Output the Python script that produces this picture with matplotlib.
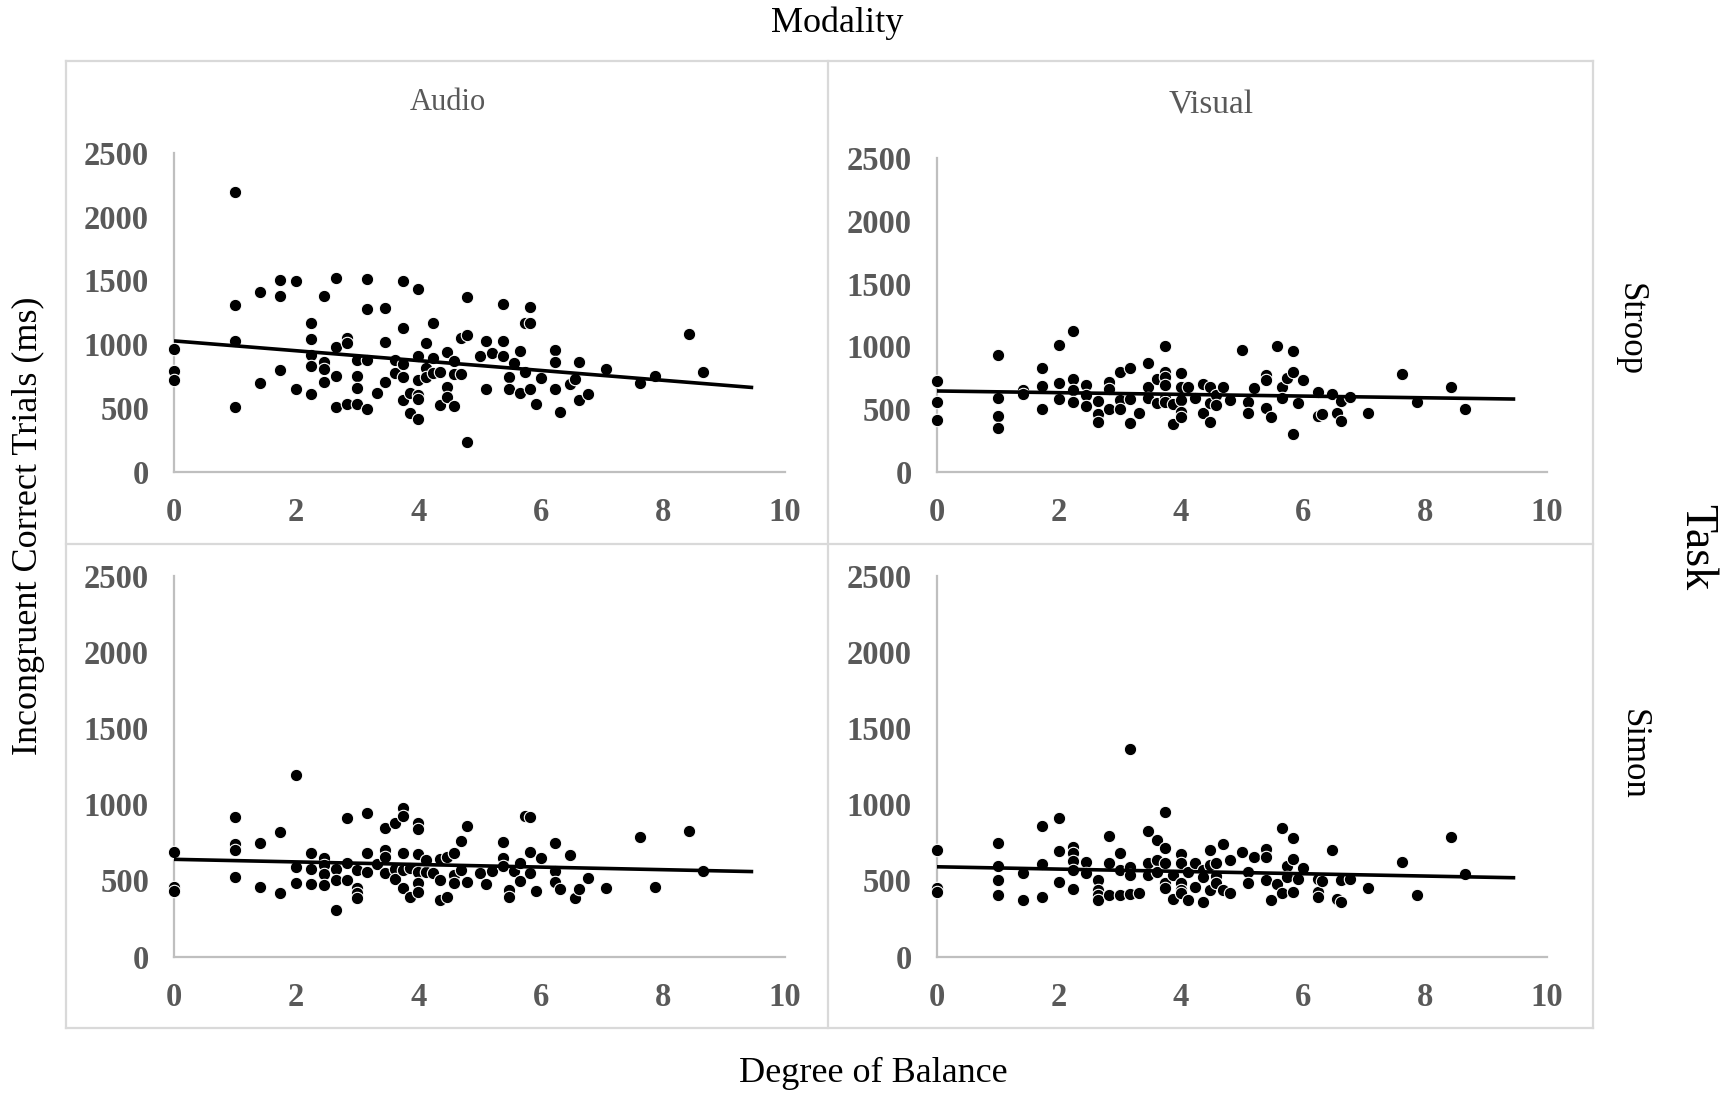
import matplotlib
matplotlib.use("Agg")
import matplotlib.pyplot as plt
from matplotlib.lines import Line2D
import numpy as np

# ---------------- data ----------------
audio_stroop_x = [0, 0, 0, 1, 1, 1, 1, 1.41, 1.41, 1.73, 1.73, 1.73, 2, 2, 2.24, 2.24, 2.24, 2.24, 2.24,
                  2.45, 2.45, 2.45, 2.45, 2.65, 2.65, 2.65, 2.65, 2.83, 2.83, 2.83, 3, 3, 3, 3,
                  3.16, 3.16, 3.16, 3.16, 3.32, 3.46, 3.46, 3.46, 3.61, 3.61, 3.74, 3.74, 3.74, 3.74, 3.74,
                  3.87, 3.87, 4, 4, 4, 4, 4, 4, 4.12, 4.12, 4.12, 4.24, 4.24, 4.24, 4.36, 4.36,
                  4.47, 4.47, 4.47, 4.58, 4.58, 4.58, 4.69, 4.69, 4.8, 4.8, 4.8, 5.0,
                  5.1, 5.1, 5.2, 5.39, 5.39, 5.39, 5.48, 5.48, 5.57, 5.66, 5.66, 5.74, 5.74,
                  5.83, 5.83, 5.83, 5.92, 6, 6.24, 6.24, 6.24, 6.32, 6.48, 6.56, 6.63, 6.63, 6.78,
                  7.07, 7.62, 7.87, 8.43, 8.66]
audio_stroop_y = [963, 791, 720, 2194, 1309, 1024, 505, 1406, 696, 1505, 1382, 798, 1497, 652, 1170, 1039, 914, 832, 607,
                  1382, 864, 804, 707, 1516, 982, 751, 510, 1047, 1013, 531, 877, 754, 654, 531,
                  1513, 1278, 877, 495, 620, 1285, 1016, 702, 877, 778, 1492, 1126, 843, 746, 563,
                  615, 463, 1435, 908, 720, 602, 568, 414, 1013, 812, 746, 1165, 895, 778, 785, 524,
                  942, 668, 589, 872, 765, 518, 1047, 765, 1374, 1073, 236, 911,
                  1026, 649, 935, 1312, 1029, 911, 746, 649, 856, 948, 620, 785, 1165,
                  1291, 1165, 647, 531, 733, 956, 864, 649, 471, 686, 725, 864, 563, 607,
                  809, 694, 751, 1081, 783]

visual_stroop_x = [0, 0, 0, 1, 1, 1, 1, 1.41, 1.41, 1.73, 1.73, 1.73, 2, 2, 2, 2.24, 2.24, 2.24, 2.24,
                   2.45, 2.45, 2.45, 2.65, 2.65, 2.65, 2.83, 2.83, 2.83, 3, 3, 3, 3.16, 3.16, 3.16, 3.32,
                   3.46, 3.46, 3.46, 3.61, 3.61, 3.74, 3.74, 3.74, 3.74, 3.74, 3.74, 3.87, 3.87,
                   4, 4, 4, 4, 4, 4.12, 4.24, 4.36, 4.36, 4.47, 4.47, 4.47, 4.58, 4.58, 4.69, 4.8,
                   5, 5.1, 5.1, 5.2, 5.39, 5.39, 5.39, 5.48, 5.57, 5.66, 5.66, 5.74, 5.83, 5.83, 5.83,
                   5.92, 6, 6.24, 6.24, 6.32, 6.48, 6.56, 6.63, 6.63, 6.78, 7.07, 7.62, 7.87, 8.43, 8.66]
visual_stroop_y = [726, 553, 412, 928, 585, 447, 346, 652, 617, 827, 686, 500, 1013, 710, 580, 1122, 742, 649, 559,
                   692, 612, 527, 567, 460, 394, 718, 660, 497, 798, 572, 497, 825, 577, 391, 471,
                   865, 673, 591, 740, 545, 1005, 798, 753, 689, 585, 559, 540, 380,
                   785, 673, 572, 473, 439, 678, 585, 700, 471, 673, 551, 399, 612, 532, 673, 572,
                   971, 559, 471, 670, 771, 731, 511, 439, 1005, 673, 591, 745, 963, 798, 301,
                   545, 731, 633, 447, 460, 620, 471, 567, 404, 599, 465, 777, 559, 678, 500]

audio_simon_x = [0, 0, 0, 1, 1, 1, 1, 1.41, 1.41, 1.73, 1.73, 2, 2, 2, 2.24, 2.24, 2.24,
                 2.45, 2.45, 2.45, 2.45, 2.65, 2.65, 2.65, 2.83, 2.83, 2.83, 3, 3, 3, 3,
                 3.16, 3.16, 3.16, 3.32, 3.46, 3.46, 3.46, 3.46, 3.61, 3.61, 3.61,
                 3.74, 3.74, 3.74, 3.74, 3.74, 3.87, 3.87, 4, 4, 4, 4, 4, 4, 4.12, 4.12, 4.24,
                 4.36, 4.36, 4.36, 4.47, 4.47, 4.58, 4.58, 4.58, 4.69, 4.69, 4.8, 4.8, 5.0,
                 5.1, 5.2, 5.39, 5.39, 5.39, 5.48, 5.48, 5.57, 5.66, 5.66, 5.74, 5.83, 5.83, 5.83,
                 5.92, 6, 6.24, 6.24, 6.24, 6.32, 6.48, 6.56, 6.63, 6.78, 7.07, 7.62, 7.87, 8.43, 8.66]
audio_simon_y = [689, 459, 433, 919, 739, 700, 525, 748, 459, 820, 420, 1192, 590, 486, 678, 575, 477,
                 650, 601, 540, 470, 575, 503, 306, 908, 612, 503, 569, 448, 416, 387,
                 940, 682, 558, 608, 842, 700, 656, 551, 875, 573, 510,
                 973, 923, 678, 569, 448, 389, 580, 875, 835, 671, 558, 481, 426, 558, 634, 547,
                 639, 503, 372, 656, 389, 678, 536, 486, 761, 569, 857, 492, 549,
                 477, 564, 755, 645, 595, 437, 389, 564, 617, 496, 925, 914, 685, 551,
                 431, 650, 744, 564, 488, 444, 667, 387, 442, 514, 448, 783, 455, 824, 564]

visual_simon_x = [0, 0, 0, 1, 1, 1, 1, 1.41, 1.41, 1.73, 1.73, 1.73, 2, 2, 2, 2.24, 2.24, 2.24, 2.24, 2.24,
                  2.45, 2.45, 2.65, 2.65, 2.65, 2.65, 2.83, 2.83, 2.83, 3, 3, 3, 3.16, 3.16, 3.16, 3.16, 3.32,
                  3.46, 3.46, 3.46, 3.61, 3.61, 3.61, 3.74, 3.74, 3.74, 3.74, 3.74, 3.87, 3.87,
                  4, 4, 4, 4, 4, 4.12, 4.12, 4.24, 4.24, 4.36, 4.36, 4.36, 4.47, 4.47, 4.47,
                  4.58, 4.58, 4.58, 4.69, 4.69, 4.8, 4.8, 5, 5.1, 5.1, 5.2, 5.39, 5.39, 5.39, 5.48, 5.57,
                  5.66, 5.66, 5.74, 5.74, 5.83, 5.83, 5.83, 5.92, 6, 6.24, 6.24, 6.24, 6.32, 6.48, 6.56,
                  6.63, 6.63, 6.78, 7.07, 7.62, 7.87, 8.43, 8.66]
visual_simon_y = [700, 453, 426, 744, 597, 503, 405, 551, 372, 857, 606, 394, 908, 693, 492, 722, 678, 628, 569, 442,
                  623, 547, 503, 437, 405, 372, 792, 612, 405, 678, 569, 405, 1362, 590, 536, 409, 420,
                  827, 612, 536, 765, 634, 558, 951, 711, 617, 481, 448, 536, 376,
                  674, 617, 486, 437, 416, 558, 372, 612, 459, 569, 525, 361, 700, 601, 437,
                  612, 529, 481, 739, 437, 634, 420, 689, 558, 481, 656, 704, 656, 503, 372, 477,
                  842, 416, 595, 525, 776, 641, 422, 507, 584, 510, 426, 394, 499, 700, 376,
                  503, 361, 510, 453, 619, 405, 787, 542]

# linear trend lines (intercept, slope)
trend_intercept = [1026, 644, 639, 590]
trend_slope = [-38.6, -6.8, -8.5, -7.6]
trend_x_end = 9.48

modalities = ["Audio", "Visual"]
tasks = ["Stroop", "Simon"]
x_ticks = [0, 2, 4, 6, 8, 10]
y_ticks = [0, 500, 1000, 1500, 2000, 2500]

# ---------------- figure ----------------
W, H = 1733, 1095
fig = plt.figure(figsize=(W / 100, H / 100), dpi=100)
plt.rcParams['font.family'] = ['Liberation Serif', 'DejaVu Serif']

def fx(px):
    return px / W

def fy(py):
    return 1 - py / H

tick_col = "#595959"
axis_col = "#bfbfbf"
border_col = "#d9d9d9"

# panel geometry (pixels): left, right, top(2500), bottom(0)
panels = [
    (174, 785, 153, 471.7),
    (936.7, 1547, 158.3, 471.7),
    (174, 785, 575.7, 956.7),
    (936.7, 1547, 575.7, 956.7),
]
data = [
    (audio_stroop_x, audio_stroop_y),
    (visual_stroop_x, visual_stroop_y),
    (audio_simon_x, audio_simon_y),
    (visual_simon_x, visual_simon_y),
]

for i, ((l, r, t, b), (xs, ys)) in enumerate(zip(panels, data)):
    ax = fig.add_axes([fx(l), fy(b), fx(r) - fx(l), fy(t) - fy(b)])
    ax.scatter(xs, ys, s=80, c="black", edgecolors="white", linewidths=0.8, zorder=3, clip_on=False)
    xl = np.array([0, trend_x_end])
    ax.plot(xl, trend_intercept[i] + trend_slope[i] * xl, color="black", lw=2.6, zorder=4,
            solid_capstyle="butt")
    ax.set_xlim(0, 10)
    ax.set_ylim(0, 2500)
    ax.set_xticks(x_ticks)
    ax.set_yticks(y_ticks)
    ax.tick_params(length=0, pad=18, labelsize=23.5, labelcolor=tick_col)
    for lab in ax.get_xticklabels() + ax.get_yticklabels():
        lab.set_fontweight("bold")
    for s in ["top", "right"]:
        ax.spines[s].set_visible(False)
    for s in ["left", "bottom"]:
        ax.spines[s].set_color(axis_col)
        ax.spines[s].set_linewidth(1.6)
    ax.set_facecolor("none")

# border grid lines
x0, x1, xm = 66, 1593, 828
y0, y1, ym = 61, 1028, 544
for (xa, ya, xb, yb) in [(x0, y0, x1, y0), (x0, y1, x1, y1), (x0, y0, x0, y1), (x1, y0, x1, y1),
                         (xm, y0, xm, y1), (x0, ym, x1, ym)]:
    fig.add_artist(Line2D([fx(xa), fx(xb)], [fy(ya), fy(yb)], color=border_col, lw=1.6, zorder=0))

# texts
fig.text(fx(837), fy(23), "Modality", ha="center", va="center", fontsize=26)
fig.text(fx(448), fy(102), modalities[0], ha="center", va="center", fontsize=22, color=tick_col)
fig.text(fx(1211), fy(105), modalities[1], ha="center", va="center", fontsize=24, color=tick_col)
fig.text(fx(1630), fy(329), tasks[0], ha="center", va="center", fontsize=25, rotation=-90)
fig.text(fx(1633), fy(754), tasks[1], ha="center", va="center", fontsize=25, rotation=-90)
fig.text(fx(1696), fy(547), "Task", ha="center", va="center", fontsize=33, rotation=-90)
fig.text(fx(28), fy(526), "Incongruent Correct Trials (ms)", ha="center", va="center", fontsize=26, rotation=90)
fig.text(fx(873), fy(1073), "Degree of Balance", ha="center", va="center", fontsize=26)

fig.savefig("out.png", dpi=100, facecolor="white")
